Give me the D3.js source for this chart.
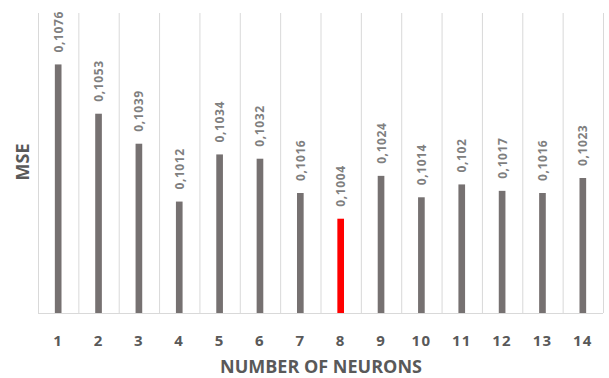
<!DOCTYPE html>
<html>
<head>
<meta charset="utf-8">
<script src="https://cdn.jsdelivr.net/npm/d3@7/dist/d3.min.js"></script>
<style>
  html, body { margin: 0; padding: 0; background: #ffffff; }
  svg { display: block; font-family: "Open Sans", "Liberation Sans", sans-serif; }
</style>
</head>
<body>
<svg id="chart" width="609" height="378"></svg>
<script>
// Number of hidden neurons and resulting mean squared error
const neurons = ["1", "2", "3", "4", "5", "6", "7", "8", "9", "10", "11", "12", "13", "14"];
const mseValues = [0.1076, 0.1053, 0.1039, 0.1012, 0.1034, 0.1032, 0.1016, 0.1004, 0.1024, 0.1014, 0.102, 0.1017, 0.1016, 0.1023];
const bestNeuron = "8";
const yDomain = [0.096, 0.110];

const svg = d3.select("#chart");
const margin = { left: 38, right: 6, top: 13, bottom: 65 };
const W = 609, H = 378;

const x = d3.scaleBand()
  .domain(neurons)
  .range([margin.left, W - margin.right])
  .paddingInner(0).paddingOuter(0);

const y = d3.scaleLinear()
  .domain(yDomain)
  .range([H - margin.bottom, margin.top]);

const fmt = v => String(v).replace(".", ",");

// vertical category gridlines
const edges = neurons.map(n => x(n)).concat([x(neurons[neurons.length - 1]) + x.bandwidth()]);
svg.append("g")
  .selectAll("line")
  .data(edges)
  .join("line")
  .attr("x1", d => d + 0.5).attr("x2", d => d + 0.5)
  .attr("y1", y.range()[1]).attr("y2", y.range()[0])
  .attr("stroke", "#d9d9d9").attr("stroke-width", 1);

// bars
const barW = x.bandwidth() * 0.165;
svg.append("g")
  .selectAll("rect")
  .data(neurons)
  .join("rect")
  .attr("x", (d) => x(d) + x.bandwidth() / 2 - barW / 2)
  .attr("y", (d, i) => y(mseValues[i]))
  .attr("width", barW)
  .attr("height", (d, i) => y(yDomain[0]) - y(mseValues[i]))
  .attr("fill", d => d === bestNeuron ? "#ff0000" : "#767171");

// baseline
svg.append("line")
  .attr("x1", x.range()[0]).attr("x2", x.range()[1])
  .attr("y1", y(yDomain[0]) + 0.5).attr("y2", y(yDomain[0]) + 0.5)
  .attr("stroke", "#d9d9d9").attr("stroke-width", 1);

// value labels, rotated
svg.append("g")
  .selectAll("text")
  .data(neurons)
  .join("text")
  .attr("transform", (d, i) => {
    const cx = x(d) + x.bandwidth() / 2;
    const cy = y(mseValues[i]) - 12;
    return `translate(${cx},${cy}) rotate(-90)`;
  })
  .attr("dominant-baseline", "central")
  .attr("text-anchor", "start")
  .attr("font-size", 12)
  .attr("font-weight", 700)
  .attr("letter-spacing", 0.6)
  .attr("fill", "#7f7f7f")
  .text((d, i) => fmt(mseValues[i]));

// x axis tick labels
const xAxis = d3.axisBottom(x).tickSize(0).tickPadding(0);
const gx = svg.append("g")
  .attr("transform", `translate(0,${y(yDomain[0])})`)
  .call(xAxis);
gx.select(".domain").remove();
gx.selectAll("text")
  .attr("dy", null)
  .attr("y", 26.5)
  .attr("dominant-baseline", "central")
  .attr("font-family", "\"Open Sans\", sans-serif")
  .attr("font-size", 15)
  .attr("font-weight", 700)
  .attr("letter-spacing", 1.2)
  .attr("fill", "#595959");

// axis titles
svg.append("text")
  .attr("x", 321).attr("y", 366)
  .attr("text-anchor", "middle")
  .attr("dominant-baseline", "central")
  .attr("font-size", 18)
  .attr("font-weight", 700)
  .attr("fill", "#595959")
  .text("NUMBER OF NEURONS");

svg.append("text")
  .attr("transform", "translate(22,162) rotate(-90)")
  .attr("text-anchor", "middle")
  .attr("dominant-baseline", "central")
  .attr("font-size", 18)
  .attr("font-weight", 700)
  .attr("fill", "#595959")
  .text("MSE");
</script>
</body>
</html>
